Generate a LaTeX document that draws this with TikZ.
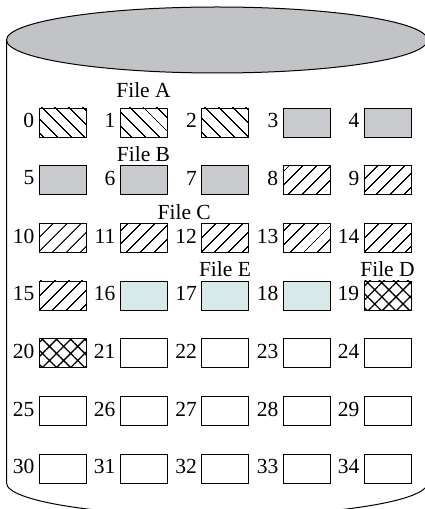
\documentclass[tikz,border=0pt]{standalone}
\usepackage{fontspec}
\setmainfont{Liberation Serif}
\usetikzlibrary{positioning,calc,patterns.meta}
\definecolor{diskgray}{RGB}{194,195,199}
\definecolor{usedgray}{RGB}{201,202,205}
\definecolor{paleblue}{RGB}{217,233,233}

\begin{document}
\begin{tikzpicture}[x=1pt, y=1pt,
    block/.style={draw, line width=0.9pt, minimum width=47pt, minimum height=29pt, inner sep=0pt},
    fileA/.style={pattern={Lines[angle=-45, distance=10.5pt, line width=1.3pt]}},
    fileB/.style={fill=usedgray},
    fileC/.style={pattern={Lines[angle=45, distance=10.5pt, line width=1.3pt]}},
    fileD/.style={pattern={Hatch[angle=45, distance=10pt, line width=1.3pt]}},
    fileE/.style={fill=paleblue},
    num/.style={inner sep=0pt, font=\fontsize{21.5}{24}\selectfont, yshift=2pt},
    fname/.style={inner sep=0pt, anchor=base, font=\fontsize{21.5}{24}\selectfont},
]
\useasboundingbox (0,0) rectangle (425,509);
\clip (0,0) rectangle (425,509);

% --- disk ---
\draw[line width=1pt] (6.5,469) -- (6.5,26)
    arc[start angle=180, end angle=360, x radius=210.5, y radius=33] -- (427.5,469);
\draw[line width=1pt, fill=diskgray] (217,469) ellipse[x radius=210.5, y radius=33];

% --- blocks ---
\node[block, fileA] (b0) at (62.5,386.5) {};
\node[block, fileA] (b1) at (143.5,386.5) {};
\node[block, fileA] (b2) at (225,386.5) {};
\node[block, fileB] (b3) at (306.5,386.5) {};
\node[block, fileB] (b4) at (387.5,386.5) {};
\node[block, fileB] (b5) at (62.5,329) {};
\node[block, fileB] (b6) at (143.5,329) {};
\node[block, fileB] (b7) at (225,329) {};
\node[block, fileC] (b8) at (306.5,329) {};
\node[block, fileC] (b9) at (387.5,329) {};
\node[block, fileC] (b10) at (62.5,271) {};
\node[block, fileC] (b11) at (143.5,271) {};
\node[block, fileC] (b12) at (225,271) {};
\node[block, fileC] (b13) at (306.5,271) {};
\node[block, fileC] (b14) at (387.5,271) {};
\node[block, fileC] (b15) at (62.5,213.5) {};
\node[block, fileE] (b16) at (143.5,213.5) {};
\node[block, fileE] (b17) at (225,213.5) {};
\node[block, fileE] (b18) at (306.5,213.5) {};
\node[block, fileD] (b19) at (387.5,213.5) {};
\node[block, fileD] (b20) at (62.5,156) {};
\node[block] (b21) at (143.5,156) {};
\node[block] (b22) at (225,156) {};
\node[block] (b23) at (306.5,156) {};
\node[block] (b24) at (387.5,156) {};
\node[block] (b25) at (62.5,98) {};
\node[block] (b26) at (143.5,98) {};
\node[block] (b27) at (225,98) {};
\node[block] (b28) at (306.5,98) {};
\node[block] (b29) at (387.5,98) {};
\node[block] (b30) at (62.5,40.5) {};
\node[block] (b31) at (143.5,40.5) {};
\node[block] (b32) at (225,40.5) {};
\node[block] (b33) at (306.5,40.5) {};
\node[block] (b34) at (387.5,40.5) {};

% --- block numbers ---
\node[num, left=4pt of b0] (n0) {0};
\node[num, left=4pt of b1] (n1) {1};
\node[num, left=4pt of b2] (n2) {2};
\node[num, left=4pt of b3] (n3) {3};
\node[num, left=4pt of b4] (n4) {4};
\node[num, left=4pt of b5] (n5) {5};
\node[num, left=4pt of b6] (n6) {6};
\node[num, left=4pt of b7] (n7) {7};
\node[num, left=4pt of b8] (n8) {8};
\node[num, left=4pt of b9] (n9) {9};
\node[num, left=4pt of b10] (n10) {10};
\node[num, left=4pt of b11] (n11) {11};
\node[num, left=4pt of b12] (n12) {12};
\node[num, left=4pt of b13] (n13) {13};
\node[num, left=4pt of b14] (n14) {14};
\node[num, left=4pt of b15] (n15) {15};
\node[num, left=4pt of b16] (n16) {16};
\node[num, left=4pt of b17] (n17) {17};
\node[num, left=4pt of b18] (n18) {18};
\node[num, left=4pt of b19] (n19) {19};
\node[num, left=4pt of b20] (n20) {20};
\node[num, left=4pt of b21] (n21) {21};
\node[num, left=4pt of b22] (n22) {22};
\node[num, left=4pt of b23] (n23) {23};
\node[num, left=4pt of b24] (n24) {24};
\node[num, left=4pt of b25] (n25) {25};
\node[num, left=4pt of b26] (n26) {26};
\node[num, left=4pt of b27] (n27) {27};
\node[num, left=4pt of b28] (n28) {28};
\node[num, left=4pt of b29] (n29) {29};
\node[num, left=4pt of b30] (n30) {30};
\node[num, left=4pt of b31] (n31) {31};
\node[num, left=4pt of b32] (n32) {32};
\node[num, left=4pt of b33] (n33) {33};
\node[num, left=4pt of b34] (n34) {34};

% --- file names ---
\node[fname] (fa) at ($(b1.north)+(0,10)$) {File A};
\node[fname] (fb) at ($(b6.north)+(0,4)$) {File B};
\node[fname] (fc) at ($(b11.north)!0.5!(b12.north)+(0,4)$) {File C};
\node[fname] (fe) at ($(b17.north)+(0,4)$) {File E};
\node[fname] (fd) at ($(b19.north)+(0,4)$) {File D};
\end{tikzpicture}
\end{document}
